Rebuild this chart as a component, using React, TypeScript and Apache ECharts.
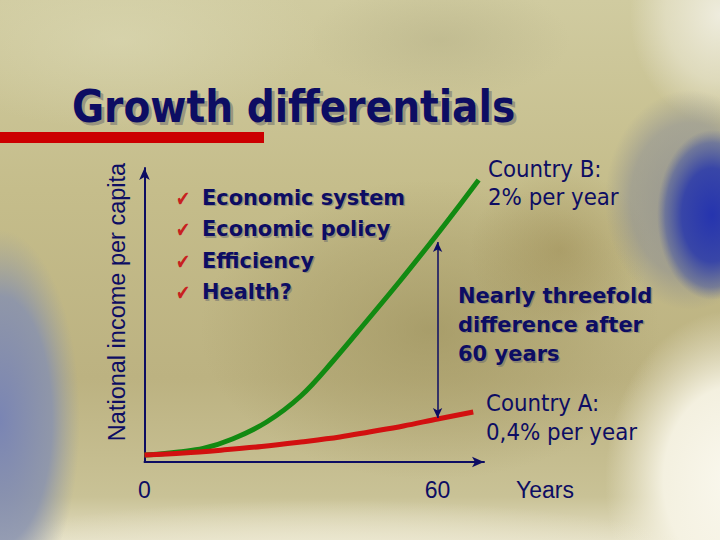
import React, { useEffect, useRef } from 'react';
import * as echarts from 'echarts';

// ---- content ----
const titleText = 'Growth differentials';
const yAxisName = 'National income per capita';
const xAxisName = 'Years';
const xTickLabels = [0, 60];
const bullets = ['Economic system', 'Economic policy', 'Efficiency', 'Health?'];
const countryBLabel = ['Country B:', '2% per year'];
const countryALabel = ['Country A:', '0,4% per year'];
const gapLabel = ['Nearly threefold', 'difference after', '60 years'];

// ---- data (years, income in arbitrary units) ----
const countryBYears = [0, 3.2, 7, 12, 18, 25, 32, 38.6, 45.5, 52.3, 59, 62.5, 68.4];
const countryBIncome = [7, 8, 10, 13.5, 23, 40, 66, 101, 141, 181, 222, 244, 282];
const countryAYears = [0, 8, 16, 24, 32, 40, 46, 53, 60, 67.3];
const countryAIncome = [7, 9, 12, 15.5, 20, 25, 30, 36, 43, 50];
const gapYear = 60;
const gapTop = 220;
const gapBottom = 44;

const xMax = 69.5;
const yMax = 294;

const NAVY = '#0d0d63';
const SHADOW = 'rgba(110,110,110,0.55)';

function radial(cx: number, cy: number, rx: number, ry: number, stops: [number, string][], z = -20) {
  return {
    type: 'circle',
    x: cx,
    y: cy,
    scaleX: rx / 100,
    scaleY: ry / 100,
    z,
    silent: true,
    shape: { cx: 0, cy: 0, r: 100 },
    style: {
      fill: new echarts.graphic.RadialGradient(
        0.5,
        0.5,
        0.5,
        stops.map(([offset, color]) => ({ offset, color }))
      ),
    },
  };
}

function txt(
  text: string,
  x: number,
  y: number,
  o: {
    size: number;
    bold?: boolean;
    family?: string;
    scaleX?: number;
    fill?: string;
    align?: string;
    rotation?: number;
    shadow?: number;
  }
) {
  const base = (dx: number, dy: number, fill: string, z: number) => ({
    type: 'text',
    x: x + dx,
    y: y + dy,
    scaleX: o.scaleX ?? 1,
    rotation: o.rotation ?? 0,
    z,
    silent: true,
    style: {
      text,
      x: 0,
      y: 0,
      fill,
      fontSize: o.size,
      fontWeight: o.bold ? 'bold' : 'normal',
      fontFamily: o.family ?? 'DejaVu Sans',
      align: o.align ?? 'left',
      verticalAlign: 'middle',
    },
  });
  const out: any[] = [];
  if (o.shadow) out.push(base(o.shadow, o.shadow, SHADOW, 9));
  out.push(base(0, 0, o.fill ?? NAVY, 10));
  return out;
}

export default function App() {
  const ref = useRef<HTMLDivElement>(null);

  useEffect(() => {
    document.body.style.margin = '0';
    if (!ref.current) return;
    const chart = echarts.init(ref.current, undefined, { renderer: 'svg' });

    const background: any[] = [
      {
        type: 'rect',
        z: -30,
        silent: true,
        shape: { x: 0, y: 0, width: 720, height: 540 },
        style: {
          fill: new echarts.graphic.LinearGradient(0, 0, 0, 1, [
            { offset: 0, color: '#d0cba0' },
            { offset: 0.35, color: '#c5bd8b' },
            { offset: 0.7, color: '#bcb281' },
            { offset: 0.92, color: '#c9c296' },
            { offset: 1, color: '#e4dfc4' },
          ]),
        },
      },
      radial(430, 330, 230, 150, [
        [0, 'rgba(150,138,85,0.55)'],
        [0.6, 'rgba(160,148,95,0.3)'],
        [1, 'rgba(160,148,95,0)'],
      ]),
      radial(560, 250, 90, 80, [
        [0, 'rgba(150,132,75,0.45)'],
        [1, 'rgba(150,132,75,0)'],
      ]),
      radial(120, 40, 200, 90, [
        [0, 'rgba(222,220,185,0.5)'],
        [1, 'rgba(222,220,185,0)'],
      ]),
      radial(440, 40, 130, 60, [
        [0, 'rgba(175,170,130,0.4)'],
        [1, 'rgba(175,170,130,0)'],
      ]),
      radial(720, 15, 90, 110, [
        [0, 'rgba(240,238,225,0.95)'],
        [0.6, 'rgba(235,232,212,0.6)'],
        [1, 'rgba(235,232,212,0)'],
      ]),
      radial(735, 480, 130, 170, [
        [0, 'rgba(250,248,238,1)'],
        [0.55, 'rgba(246,243,228,0.95)'],
        [1, 'rgba(240,236,215,0)'],
      ]),
      radial(330, 560, 380, 60, [
        [0, 'rgba(238,234,212,0.95)'],
        [1, 'rgba(238,234,212,0)'],
      ]),
      radial(690, 200, 85, 110, [
        [0, 'rgba(120,125,150,0.6)'],
        [0.7, 'rgba(125,130,150,0.45)'],
        [1, 'rgba(130,132,140,0)'],
      ]),
      radial(712, 215, 55, 85, [
        [0, 'rgba(35,50,175,0.98)'],
        [0.55, 'rgba(45,60,170,0.9)'],
        [0.85, 'rgba(70,85,160,0.55)'],
        [1, 'rgba(90,100,150,0)'],
      ]),
      radial(0, 420, 80, 190, [
        [0, 'rgba(118,130,182,0.95)'],
        [0.65, 'rgba(135,145,175,0.85)'],
        [1, 'rgba(150,155,160,0)'],
      ]),
    ];

    const texts: any[] = [
      ...txt(titleText, 72, 107, { size: 45, bold: true, scaleX: 0.87, shadow: 3 }),
      {
        type: 'rect',
        z: 8,
        silent: true,
        shape: { x: 0, y: 132, width: 264, height: 11 },
        style: { fill: '#cc0000' },
      },
      ...txt(yAxisName, 117, 302, {
        size: 23.5,
        family: 'Liberation Sans',
        align: 'center',
        rotation: Math.PI / 2,
      }),
      ...txt(xAxisName, 516, 490, { size: 23, family: 'Liberation Sans' }),
    ];
    const bulletY = [197, 228.5, 260, 291.5];
    bullets.forEach((b, i) => {
      texts.push(...txt('\u2714', 176, bulletY[i] + 1, { size: 21, fill: '#c82020', scaleX: 0.8 }));
      texts.push(...txt(b, 202, bulletY[i], { size: 22, bold: true, scaleX: 0.95, shadow: 1.5 }));
    });
    [168.5, 197].forEach((y, i) =>
      texts.push(...txt(countryBLabel[i], 488, y, { size: 23, scaleX: 0.93 }))
    );
    [295, 324, 353.5].forEach((y, i) =>
      texts.push(...txt(gapLabel[i], 458, y, { size: 22, bold: true, scaleX: 0.955, shadow: 1.5 }))
    );
    [403, 432].forEach((y, i) =>
      texts.push(...txt(countryALabel[i], 486, y, { size: 23, scaleX: 0.93 }))
    );

    const axisLine = {
      show: true,
      symbol: ['none', 'arrow'],
      symbolSize: [8, 12],
      lineStyle: { color: NAVY, width: 2 },
    };

    chart.setOption({
      animation: false,
      grid: { left: 144.5, right: 236, top: 168, bottom: 78, containLabel: false },
      xAxis: {
        type: 'value',
        min: 0,
        max: xMax,
        interval: 60,
        axisLine,
        axisTick: { show: false },
        splitLine: { show: false },
        axisLabel: {
          show: true,
          margin: 16,
          color: NAVY,
          fontSize: 23,
          fontFamily: 'Liberation Sans',
          showMaxLabel: false,
          formatter: (v: number) => (xTickLabels.includes(v) ? String(v) : ''),
        },
      },
      yAxis: {
        type: 'value',
        min: 0,
        max: yMax,
        axisLine,
        axisTick: { show: false },
        splitLine: { show: false },
        axisLabel: { show: false },
      },
      series: [
        {
          name: 'Country B',
          type: 'line',
          data: countryBYears.map((x, i) => [x, countryBIncome[i]]),
          smooth: 0.35,
          showSymbol: false,
          silent: true,
          lineStyle: { color: '#128a12', width: 5 },
          markLine: {
            silent: true,
            symbol: ['arrow', 'arrow'],
            symbolSize: [7, 10],
            label: { show: false },
            lineStyle: { color: NAVY, width: 1.5, type: 'solid' },
            data: [[{ coord: [gapYear, gapTop] }, { coord: [gapYear, gapBottom] }]],
          },
        },
        {
          name: 'Country A',
          type: 'line',
          data: countryAYears.map((x, i) => [x, countryAIncome[i]]),
          smooth: 0.35,
          showSymbol: false,
          silent: true,
          lineStyle: { color: '#d21010', width: 5 },
        },
      ],
      graphic: { elements: [...background, ...texts] },
    });

    return () => chart.dispose();
  }, []);

  return <div ref={ref} style={{ width: 720, height: 540 }} />;
}
